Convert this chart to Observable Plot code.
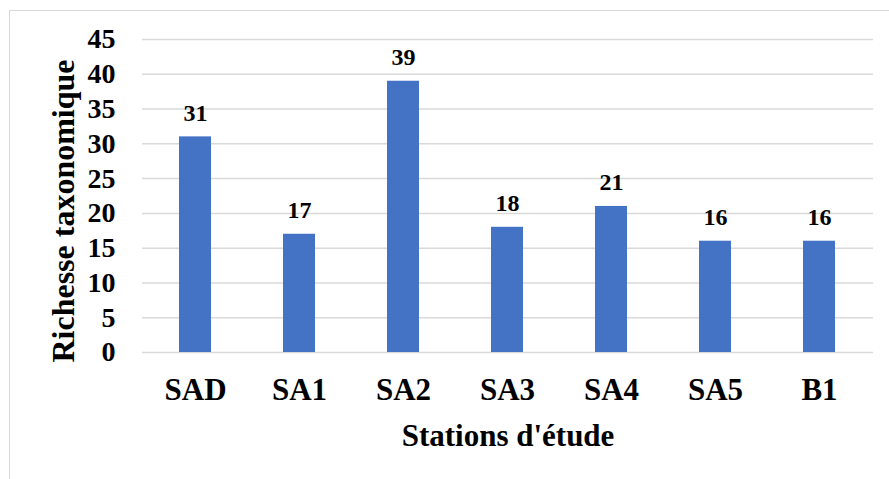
<!DOCTYPE html>
<html>
<head>
<meta charset="utf-8">
<script src="https://cdn.jsdelivr.net/npm/d3@7"></script>
<script src="https://cdn.jsdelivr.net/npm/@observablehq/plot@0.6"></script>
<style>
  html, body { margin: 0; padding: 0; background: #fff; overflow: hidden; width: 889px; height: 479px; }
  #wrap { position: relative; width: 889px; height: 479px; }
  #border { position: absolute; left: 9px; top: 10px; width: 890px; height: 480px; border: 1.5px solid #d9d9d9; box-sizing: border-box; pointer-events: none; }
  #chart { position: absolute; left: 0; top: 0; }
</style>
</head>
<body>
<div id="wrap">
  <div id="border"></div>
  <div id="chart"></div>
</div>
<script>
const stations = ["SAD", "SA1", "SA2", "SA3", "SA4", "SA5", "B1"];
const richesse = [31, 17, 39, 18, 21, 16, 16];
const yTicks = [0, 5, 10, 15, 20, 25, 30, 35, 40, 45];
const xTitle = "Stations d'étude";
const yTitle = "Richesse taxonomique";

const data = stations.map((s, i) => ({station: s, value: richesse[i]}));
const font = "'Liberation Serif', 'Times New Roman', serif";

const chart = Plot.plot({
  width: 889,
  height: 479,
  marginLeft: 142,
  marginRight: 16,
  marginTop: 39,
  marginBottom: 127,
  style: {fontFamily: font, fontWeight: "bold", color: "#000", background: "transparent"},
  x: {domain: stations, paddingInner: 0.69, paddingOuter: 0.345, label: null},
  y: {domain: [0, 45], label: null},
  marks: [
    Plot.gridY(yTicks, {stroke: "#d9d9d9", strokeOpacity: 1, strokeWidth: 1.5}),
    Plot.barY(data, {x: "station", y: "value", fill: "#4472C4"}),
    Plot.text(data, {x: "station", y: "value", text: d => String(d.value), dy: -16, lineAnchor: "bottom", fontSize: 24, fontWeight: "bold", fill: "#000"}),
    Plot.axisY(yTicks, {tickSize: 0, tickPadding: 27, fontSize: 28, fontWeight: "bold", label: null, fill: "#000"}),
    Plot.axisX({tickSize: 0, tickPadding: 25, fontSize: 31, fontWeight: "bold", label: null, fill: "#000"}),
    Plot.text([xTitle], {frameAnchor: "bottom", lineAnchor: "bottom", dy: 93, fontSize: 31, fontWeight: "bold", fill: "#000"}),
    Plot.text([yTitle], {frameAnchor: "left", rotate: -90, textAnchor: "middle", lineAnchor: "bottom", dx: -69, dy: 15, fontSize: 32, fontWeight: "bold", fill: "#000"})
  ]
});
document.getElementById("chart").appendChild(chart);
</script>
</body>
</html>
